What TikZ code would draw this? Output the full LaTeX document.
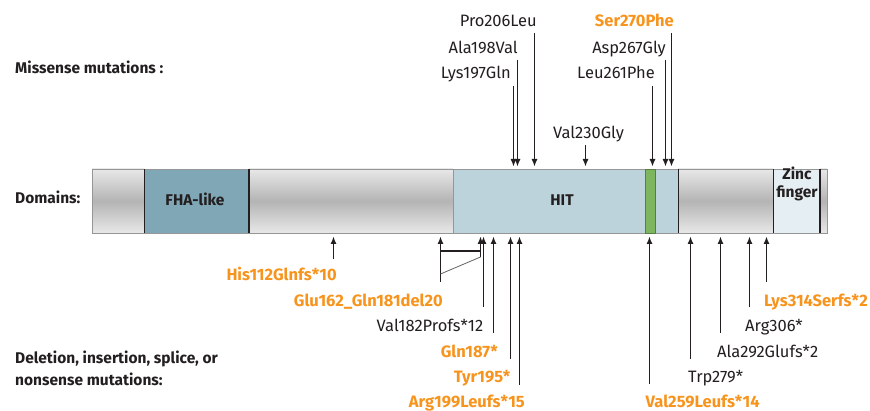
\documentclass[tikz,border=0pt]{standalone}
\usepackage{fontspec}
\setmainfont{Fira Sans}
\usetikzlibrary{arrows.meta}
\definecolor{orng}{RGB}{247,148,30}
\definecolor{ink}{RGB}{35,31,32}
\definecolor{fha}{RGB}{128,167,182}
\definecolor{hit}{RGB}{189,211,220}
\definecolor{zinc}{RGB}{229,238,242}
\definecolor{grn}{RGB}{125,182,94}
\definecolor{edge}{RGB}{150,150,150}
\definecolor{gLight}{RGB}{232,232,232}
\definecolor{gDark}{RGB}{180,180,180}
\begin{document}
\begin{tikzpicture}[x=1pt,y=-1pt,
  lbl/.style={font=\fontsize{16.5}{19}\selectfont, text=ink, inner sep=0pt},
  olbl/.style={font=\fontsize{16.5}{19}\selectfont\bfseries, text=orng, inner sep=0pt},
  cat/.style={font=\fontsize{15.5}{21}\selectfont\bfseries, text=ink, inner sep=0pt, align=left},
  dom/.style={font=\fontsize{15.5}{17.5}\selectfont\bfseries, text=ink, inner sep=0pt, align=center},
  seg/.style={draw=edge, line width=0.6pt, inner sep=0pt, outer sep=0pt, anchor=north west, minimum height=64pt},
  grayseg/.style={seg, top color=gLight, bottom color=gLight, middle color=gDark},
  mut/.style={line width=1.2pt, draw=ink, -{Latex[length=7.5pt,width=6pt]}},
]
\useasboundingbox (0,0) rectangle (870,411);

% ---------- bar ----------
\node[grayseg, minimum width=52pt] (g1) at (92,169) {};
\node[seg, fill=fha, minimum width=105pt] (fha) at (144,169) {};
\node[grayseg, minimum width=204pt] (g2) at (249,169) {};
\node[seg, fill=hit, minimum width=225pt] (hit) at (453,169) {};
\node[seg, fill=grn, draw=grn!70!black, minimum width=10pt] (grn) at (645,169) {};
\node[grayseg, minimum width=95pt] (g3) at (678,169) {};
\node[seg, fill=zinc, minimum width=47pt] (zf) at (773,169) {};
\node[grayseg, minimum width=7pt] (g4) at (820,169) {};
\draw[ink, line width=1pt] (fha.north west) -- (fha.south west);
\draw[ink, line width=2pt] (fha.north east) -- (fha.south east);
\draw[ink, line width=0.9pt] (g3.north west) -- (g3.south west);
\draw[ink, line width=0.9pt] (zf.north west) -- (zf.south west);
\draw[ink, line width=2.2pt] (zf.north east) -- (zf.south east);

\node[dom, anchor=base] (fhat) at (195,205.5) {FHA-like};
\node[dom, anchor=base] (hitt) at (562,205.5) {HIT};
\node[dom, anchor=base] (zft) at (797,197.5) {Zinc\\finger};

% ---------- category labels ----------
\node[cat, anchor=base west] (cmis) at (15,74) {Missense mutations :};
\node[cat, anchor=base west] (cdom) at (15,204) {Domains:};
\node[cat, anchor=base west] (cdel) at (15,385) {Deletion, insertion, splice, or\\nonsense mutations:};

% ---------- missense (top) ----------
\node[lbl, anchor=base east] (l206) at (537,27) {Pro206Leu};
\node[lbl, anchor=base east] (l198) at (518,53.5) {Ala198Val};
\node[lbl, anchor=base east] (l197) at (511,78.5) {Lys197Gln};
\node[lbl, anchor=base] (l230) at (588.5,138.5) {Val230Gly};
\node[lbl, anchor=base east] (l261) at (655,78.5) {Leu261Phe};
\node[lbl, anchor=base east] (l267) at (666,53.5) {Asp267Gly};
\node[olbl, anchor=base east] (l270) at (674,27) {Ser270Phe};

\foreach \n/\x/\y in {197/513.5/86, 198/517.5/60, 206/534.5/33, 230/585.5/145,
                      261/652.5/86, 267/665.5/60, 270/671.5/33}{
  \coordinate (t\n) at (\x,\y);
  \coordinate (h\n) at (\x,166.5);
  \draw[mut] (t\n) -- (h\n);
}

% ---------- deletion etc. (bottom) ----------
\node[olbl, anchor=base east] (l112) at (337,281) {His112Glnfs*10};
\node[olbl, anchor=base east] (l162) at (443,306.7) {Glu162\_Gln181del20};
\node[lbl, anchor=base east] (l182) at (483.5,332) {Val182Profs*12};
\node[olbl, anchor=base east] (l187) at (498,357.5) {Gln187*};
\node[olbl, anchor=base east] (l195) at (510.5,383) {Tyr195*};
\node[olbl, anchor=base east] (l199) at (525,407) {Arg199Leufs*15};
\node[olbl, anchor=base west] (l259) at (645.5,407) {Val259Leufs*14};
\node[lbl, anchor=base west] (l279) at (688,383) {Trp279*};
\node[lbl, anchor=base west] (l292) at (717,357.5) {Ala292Glufs*2};
\node[lbl, anchor=base west] (l306) at (745,332) {Arg306*};
\node[olbl, anchor=base west] (l314) at (764,306.7) {Lys314Serfs*2};

\foreach \n/\x/\y in {112/333.5/259, 162/440.5/282, 181/480.5/257, 182/483.5/307,
                      187/493.5/333, 195/510.5/359, 199/519.5/385,
                      259/649.5/384, 279/690.5/359, 292/720.5/333, 306/749.5/307, 314/766.5/282}{
  \coordinate (b\n) at (\x,\y);
  \coordinate (u\n) at (\x,236.5);
  \draw[mut] (b\n) -- (u\n);
}

% bracket for the deletion 162-181
\coordinate (brL) at (440.5,251);
\coordinate (brR) at (480.5,251);
\coordinate (dgL) at (440.5,274);
\draw[ink, line width=1.2pt] (brL) -- (brR);
\draw[ink!70, line width=0.8pt] (dgL) -- (b181);
\end{tikzpicture}
\end{document}
